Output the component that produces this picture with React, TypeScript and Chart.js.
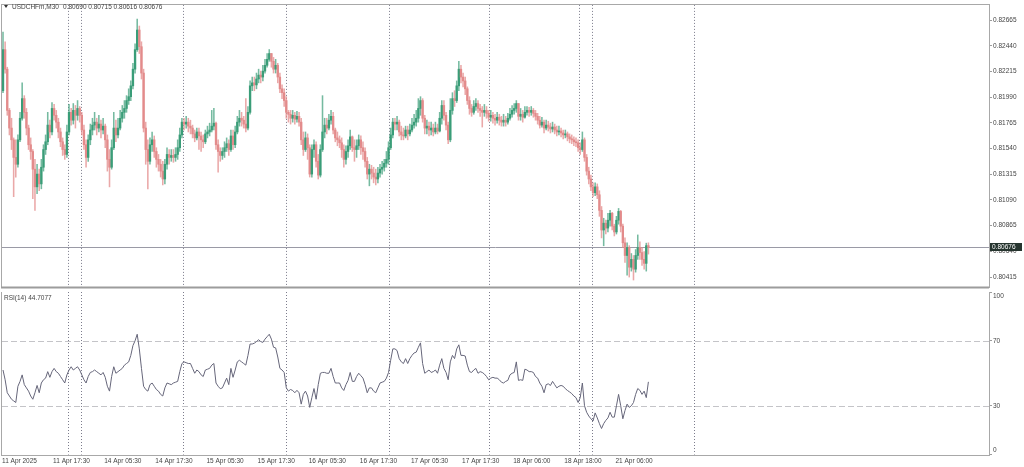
import React, { useEffect, useRef } from "react";
import { Chart, registerables } from "chart.js";
Chart.register(...registerables);

const symbolTitle = "USDCHFm,M30";
const lastBarText = "0.80690 0.80715 0.80616 0.80676";
const rsiTitle = "RSI(14) 44.7077";
const currentPrice = 0.80676;
const currentPriceText = "0.80676";

const firstOpen = 0.82047;
const closes = [
  0.82407,0.82236,0.81875,0.81720,0.81617,0.81463,0.81403,0.81617,0.81806,0.81978,
  0.81858,0.81720,0.81574,0.81515,0.81360,0.81205,0.81317,0.81231,0.81377,0.81532,
  0.81600,0.81746,0.81686,0.81892,0.81832,0.81772,0.81686,0.81600,0.81532,0.81489,
  0.81686,0.81858,0.81789,0.81875,0.81832,0.81892,0.81832,0.81703,0.81574,0.81463,
  0.81617,0.81703,0.81746,0.81772,0.81720,0.81755,0.81703,0.81737,0.81617,0.81446,
  0.81377,0.81548,0.81720,0.81660,0.81720,0.81806,0.81858,0.81892,0.81961,0.81995,
  0.82090,0.82236,0.82407,0.82579,0.82433,0.82202,0.81720,0.81532,0.81429,0.81574,
  0.81617,0.81515,0.81446,0.81403,0.81343,0.81274,0.81403,0.81489,0.81463,0.81480,
  0.81463,0.81489,0.81548,0.81660,0.81772,0.81755,0.81772,0.81737,0.81720,0.81669,
  0.81634,0.81686,0.81651,0.81617,0.81600,0.81669,0.81686,0.81703,0.81737,0.81763,
  0.81574,0.81515,0.81480,0.81515,0.81548,0.81583,0.81532,0.81651,0.81574,0.81686,
  0.81772,0.81806,0.81789,0.81755,0.81720,0.81858,0.82090,0.82116,0.82098,0.82150,
  0.82184,0.82167,0.82219,0.82270,0.82322,0.82373,0.82305,0.82236,0.82270,0.82167,
  0.82064,0.82030,0.81961,0.81858,0.81841,0.81806,0.81832,0.81798,0.81823,0.81772,
  0.81617,0.81532,0.81634,0.81548,0.81317,0.81532,0.81574,0.81429,0.81308,0.81532,
  0.81686,0.81746,0.81720,0.81789,0.81823,0.81703,0.81634,0.81617,0.81591,0.81532,
  0.81446,0.81515,0.81565,0.81643,0.81548,0.81532,0.81565,0.81617,0.81548,0.81515,
  0.81429,0.81317,0.81360,0.81326,0.81291,0.81274,0.81326,0.81360,0.81377,0.81412,
  0.81446,0.81548,0.81660,0.81772,0.81755,0.81772,0.81686,0.81660,0.81651,0.81703,
  0.81669,0.81703,0.81746,0.81772,0.81806,0.81892,0.81961,0.81806,0.81720,0.81737,
  0.81703,0.81720,0.81686,0.81720,0.81694,0.81806,0.81918,0.81832,0.81746,0.81617,
  0.81875,0.81978,0.81961,0.82090,0.82236,0.82167,0.82133,0.82064,0.81961,0.81892,
  0.81858,0.81909,0.81935,0.81892,0.81875,0.81858,0.81875,0.81849,0.81815,0.81832,
  0.81806,0.81789,0.81815,0.81789,0.81772,0.81789,0.81772,0.81806,0.81841,0.81875,
  0.81892,0.81935,0.81823,0.81841,0.81815,0.81858,0.81875,0.81858,0.81875,0.81849,
  0.81823,0.81789,0.81746,0.81772,0.81720,0.81746,0.81729,0.81712,0.81729,0.81703,
  0.81686,0.81694,0.81677,0.81660,0.81669,0.81643,0.81626,0.81617,0.81600,0.81591,
  0.81548,0.81532,0.81617,0.81463,0.81343,0.81274,0.81205,0.81154,0.81205,0.81136,
  0.80999,0.80827,0.80887,0.80844,0.80913,0.80973,0.80861,0.80810,0.80913,0.80990,
  0.80861,0.80715,0.80604,0.80673,0.80501,0.80570,0.80484,0.80604,0.80673,0.80630,
  0.80570,0.80535,0.80690,0.80676,
];
const highs = [
  0.82562,0.82476,0.82253,0.81892,0.81806,0.81634,0.81617,0.81660,0.81858,0.82116,
  0.82004,0.81892,0.81746,0.81634,0.81532,0.81446,0.81403,0.81360,0.81446,0.81574,
  0.81660,0.81858,0.81789,0.81944,0.81927,0.81875,0.81806,0.81720,0.81634,0.81574,
  0.81746,0.81927,0.81892,0.81935,0.81918,0.81961,0.81909,0.81858,0.81746,0.81617,
  0.81660,0.81755,0.81806,0.81858,0.81806,0.81832,0.81789,0.81806,0.81755,0.81660,
  0.81532,0.81617,0.81858,0.81789,0.81806,0.81875,0.81918,0.81961,0.82004,0.82064,
  0.82133,0.82287,0.82459,0.82674,0.82614,0.82476,0.82236,0.81772,0.81617,0.81634,
  0.81686,0.81651,0.81548,0.81489,0.81446,0.81429,0.81446,0.81548,0.81532,0.81532,
  0.81532,0.81548,0.81617,0.81720,0.81806,0.81806,0.81823,0.81806,0.81789,0.81746,
  0.81703,0.81720,0.81720,0.81686,0.81660,0.81703,0.81737,0.81763,0.81875,0.81892,
  0.81772,0.81617,0.81548,0.81548,0.81600,0.81634,0.81617,0.81703,0.81703,0.81737,
  0.81823,0.81875,0.81858,0.81823,0.81978,0.81909,0.82133,0.82167,0.82167,0.82202,
  0.82236,0.82219,0.82270,0.82322,0.82373,0.82408,0.82373,0.82339,0.82322,0.82287,
  0.82202,0.82098,0.82064,0.81995,0.81875,0.81875,0.81875,0.81858,0.81866,0.81858,
  0.81806,0.81686,0.81686,0.81669,0.81574,0.81574,0.81617,0.81600,0.81489,0.81574,
  0.82004,0.81806,0.81806,0.81841,0.81875,0.81858,0.81720,0.81686,0.81651,0.81634,
  0.81574,0.81565,0.81617,0.81703,0.81651,0.81617,0.81617,0.81660,0.81651,0.81600,
  0.81548,0.81463,0.81403,0.81394,0.81377,0.81360,0.81377,0.81403,0.81429,0.81446,
  0.81515,0.81600,0.81720,0.81806,0.81806,0.81823,0.81789,0.81737,0.81720,0.81737,
  0.81737,0.81755,0.81806,0.81841,0.81875,0.81978,0.81995,0.81978,0.81832,0.81789,
  0.81772,0.81772,0.81755,0.81772,0.81755,0.81858,0.81961,0.81961,0.81858,0.81772,
  0.81978,0.82030,0.82047,0.82133,0.82305,0.82270,0.82202,0.82167,0.82081,0.81995,
  0.81927,0.81961,0.81978,0.81961,0.81927,0.81909,0.81927,0.81909,0.81875,0.81875,
  0.81858,0.81841,0.81858,0.81841,0.81823,0.81841,0.81823,0.81849,0.81892,0.81918,
  0.81935,0.81961,0.81927,0.81892,0.81875,0.81909,0.81909,0.81901,0.81909,0.81892,
  0.81875,0.81849,0.81823,0.81815,0.81789,0.81789,0.81780,0.81763,0.81772,0.81755,
  0.81737,0.81737,0.81720,0.81703,0.81703,0.81686,0.81669,0.81660,0.81643,0.81634,
  0.81617,0.81591,0.81686,0.81634,0.81489,0.81377,0.81308,0.81240,0.81240,0.81231,
  0.81171,0.81033,0.80930,0.80913,0.80973,0.80999,0.80982,0.80878,0.80947,0.81016,
  0.80999,0.80878,0.80758,0.80715,0.80690,0.80621,0.80604,0.80656,0.80784,0.80724,
  0.80673,0.80639,0.80712,0.80715,
];
const lows = [
  0.82030,0.82202,0.81832,0.81660,0.81532,0.81119,0.81291,0.81377,0.81600,0.81789,
  0.81806,0.81660,0.81532,0.81446,0.81102,0.80999,0.81145,0.81171,0.81188,0.81343,
  0.81489,0.81574,0.81634,0.81660,0.81789,0.81720,0.81634,0.81557,0.81480,0.81446,
  0.81463,0.81660,0.81746,0.81755,0.81720,0.81789,0.81772,0.81660,0.81532,0.81377,
  0.81429,0.81574,0.81660,0.81703,0.81660,0.81686,0.81634,0.81669,0.81548,0.81343,
  0.81205,0.81360,0.81532,0.81600,0.81634,0.81703,0.81772,0.81806,0.81858,0.81927,
  0.81961,0.82064,0.82202,0.82391,0.82373,0.82150,0.81686,0.81403,0.81188,0.81403,
  0.81515,0.81463,0.81377,0.81343,0.81291,0.81222,0.81231,0.81360,0.81403,0.81429,
  0.81420,0.81429,0.81446,0.81515,0.81634,0.81703,0.81720,0.81686,0.81669,0.81634,
  0.81600,0.81617,0.81532,0.81515,0.81548,0.81583,0.81634,0.81651,0.81686,0.81703,
  0.81532,0.81334,0.81429,0.81446,0.81463,0.81515,0.81480,0.81515,0.81532,0.81548,
  0.81669,0.81737,0.81737,0.81720,0.81686,0.81703,0.81841,0.82047,0.82047,0.82064,
  0.82116,0.82116,0.82133,0.82202,0.82253,0.82305,0.82253,0.82202,0.82202,0.82116,
  0.82030,0.81978,0.81909,0.81806,0.81772,0.81755,0.81772,0.81755,0.81772,0.81737,
  0.81574,0.81480,0.81515,0.81446,0.81291,0.81291,0.81463,0.81377,0.81274,0.81291,
  0.81515,0.81634,0.81669,0.81703,0.81755,0.81669,0.81600,0.81565,0.81548,0.81463,
  0.81377,0.81403,0.81463,0.81532,0.81515,0.81429,0.81463,0.81532,0.81489,0.81446,
  0.81377,0.81274,0.81214,0.81274,0.81240,0.81222,0.81240,0.81291,0.81317,0.81343,
  0.81377,0.81403,0.81532,0.81634,0.81703,0.81703,0.81651,0.81617,0.81617,0.81634,
  0.81617,0.81651,0.81686,0.81720,0.81737,0.81772,0.81832,0.81772,0.81669,0.81669,
  0.81651,0.81660,0.81651,0.81669,0.81669,0.81686,0.81755,0.81789,0.81703,0.81583,
  0.81600,0.81841,0.81909,0.81944,0.82047,0.82116,0.82081,0.82013,0.81927,0.81841,
  0.81823,0.81841,0.81875,0.81858,0.81823,0.81729,0.81823,0.81806,0.81780,0.81780,
  0.81763,0.81746,0.81763,0.81746,0.81737,0.81737,0.81737,0.81755,0.81789,0.81815,
  0.81841,0.81858,0.81789,0.81789,0.81772,0.81806,0.81832,0.81823,0.81832,0.81815,
  0.81789,0.81755,0.81720,0.81729,0.81677,0.81703,0.81694,0.81677,0.81686,0.81669,
  0.81651,0.81660,0.81643,0.81626,0.81634,0.81608,0.81591,0.81583,0.81565,0.81557,
  0.81515,0.81489,0.81515,0.81429,0.81308,0.81231,0.81171,0.81119,0.81128,0.81102,
  0.80947,0.80758,0.80689,0.80792,0.80810,0.80861,0.80827,0.80775,0.80792,0.80878,
  0.80810,0.80673,0.80544,0.80432,0.80415,0.80467,0.80389,0.80458,0.80570,0.80570,
  0.80518,0.80484,0.80467,0.80616,
];
const rsi14 = [
  52,46,38,36,34,33,32,42,45,49,
  43,41,39,36,34,38,42.5,38,44,46,
  47,51,47.5,51,53,51,50,48,46,44,
  49,52,54,52,53,54,52,49,46,44,
  48,50.5,51,52,51,50,49,50.5,47.5,42,
  39,48,54,50,51,52,53,55,56,57,
  61,67,70,74,65,53,42,40,39,43,
  44,42,40,39,37,36,41,44,43.5,43,
  44,44.5,45,51,56,57,56.5,56,56,53,
  50,52,51,49,48,52,52.5,53,55,56,
  44,42,40.5,41,44,47,43,53,47.5,52,
  57,58,57,56,55,61,68,68,68.5,69.5,
  70.6,69.5,69,71,72.5,74,71,66,65.6,60,
  53,52,50.5,41,39,40,39.4,38,39.5,38,
  31,37,39,36,29,35,40.6,34,43,50,
  50.5,50.5,50,50,53,48,44,44,44,41,
  39.4,43,45.6,50.5,45,45,48,50,48.5,47,
  43,38,41,41,39,38,41,44,44.5,45,
  47,50.5,58,65,65,64,59,57,56,59,
  56,59,61,62.5,63,66,68.7,56,50,51,
  52,50.5,51,52,50,55,59,53,50.5,46,
  57,61,59,65,67.5,61,61,60.6,55,51,
  50.5,52,53,50,51,50.5,49.5,48,46,47,
  47.5,47,47,46,44.5,44,45,45.6,49,50,
  50.5,57,45.6,46,45.6,52.5,52,51,51,50.5,
  48,47,44,42,38,43,43.5,42.5,45,43,
  41,42,42.5,42,40.5,39.4,38.5,37.5,36,35,
  32,35,44,30,26,23.7,22,20.6,25.6,22.5,
  19,16,19,21,22.5,26,23,23,30,37,
  30,22,27,31,29,30,32,37,40.6,39.5,
  37,39,35,44.71,
];

const priceTicks = [0.82665, 0.8244, 0.82215, 0.8199, 0.81765, 0.8154, 0.81315, 0.8109, 0.80865, 0.8064, 0.80415];
const rsiLevels = [100, 70, 30, 0];
const rsiDashedLevels = [70, 30];
const timeLabels = [
  "11 Apr 2025", "11 Apr 17:30", "14 Apr 05:30", "14 Apr 17:30", "15 Apr 05:30",
  "15 Apr 17:30", "16 Apr 05:30", "16 Apr 17:30", "17 Apr 05:30", "17 Apr 17:30",
  "18 Apr 06:00", "18 Apr 18:00", "21 Apr 06:00",
];
const timeLabelBars = [0, 24, 48, 72, 96, 120, 144, 168, 192, 216, 240, 264, 288];
const periodLineBars = [30.66, 36.62, 84.65, 132.9, 181.2, 228.3, 270.4, 276.4, 324.6];

const PRICE_MIN = 0.80327;
const PRICE_MAX = 0.82799;
const BAR_MIN = -0.47;
const BAR_MAX = 462.9;

const FONT = "Liberation Sans";
const BULL = "#3a9d78";
const BEAR = "#e38b8b";
const BULL_WICK = "rgba(58,157,120,0.7)";
const BEAR_WICK = "rgba(227,139,139,0.75)";
const FRAME = "#a8a8a8";
const TEXT = "#444";

function drawPeriodLines(chart: any) {
  const { ctx, chartArea } = chart;
  const xs = chart.scales.x;
  ctx.save();
  ctx.strokeStyle = "#7c7c8c";
  ctx.lineWidth = 1;
  ctx.setLineDash([1, 2]);
  periodLineBars.forEach((b) => {
    const x = Math.round(xs.getPixelForValue(b)) + 0.5;
    ctx.beginPath();
    ctx.moveTo(x, chartArea.top);
    ctx.lineTo(x, chartArea.bottom);
    ctx.stroke();
  });
  ctx.restore();
}

function drawFrame(chart: any) {
  const { ctx, chartArea } = chart;
  ctx.save();
  ctx.strokeStyle = FRAME;
  ctx.lineWidth = 1;
  ctx.strokeRect(Math.round(chartArea.left) - 0.5, Math.round(chartArea.top) - 0.5,
    Math.round(chartArea.right - chartArea.left) + 1, Math.round(chartArea.bottom - chartArea.top) + 1);
  ctx.restore();
}

const pricePanePlugin = {
  id: "pricePane",
  beforeDatasetsDraw(chart: any) {
    const { ctx, chartArea } = chart;
    drawPeriodLines(chart);
    const y = Math.round(chart.scales.y.getPixelForValue(currentPrice)) + 0.5;
    ctx.save();
    ctx.strokeStyle = "#9a9aa6";
    ctx.lineWidth = 1;
    ctx.beginPath();
    ctx.moveTo(chartArea.left, y);
    ctx.lineTo(chartArea.right, y);
    ctx.stroke();
    ctx.restore();
  },
  afterDraw(chart: any) {
    const { ctx, chartArea } = chart;
    drawFrame(chart);
    ctx.save();
    ctx.strokeStyle = "#9c9c9c";
    ctx.lineWidth = 2;
    ctx.beginPath();
    ctx.moveTo(chartArea.left - 1, chartArea.bottom + 0.5);
    ctx.lineTo(chartArea.right, chartArea.bottom + 0.5);
    ctx.stroke();
    ctx.fillStyle = "#333";
    ctx.beginPath();
    ctx.moveTo(4, 5);
    ctx.lineTo(8, 5);
    ctx.lineTo(6, 8);
    ctx.closePath();
    ctx.fill();
    ctx.font = `6.5px "${FONT}"`;
    ctx.textBaseline = "middle";
    ctx.textAlign = "left";
    ctx.fillStyle = TEXT;
    ctx.fillText(symbolTitle, 12, 7);
    ctx.fillText(lastBarText, 63, 7);
    const y = chart.scales.y.getPixelForValue(currentPrice);
    ctx.fillStyle = "#26352f";
    ctx.fillRect(chartArea.right + 1, Math.round(y) - 4, 32, 8);
    ctx.fillStyle = "#ffffff";
    ctx.fillText(currentPriceText, chartArea.right + 3, Math.round(y) + 0.5);
    ctx.restore();
  },
};

const rsiPanePlugin = {
  id: "rsiPane",
  beforeDatasetsDraw(chart: any) {
    const { ctx, chartArea } = chart;
    drawPeriodLines(chart);
    ctx.save();
    ctx.strokeStyle = "#c4c4c8";
    ctx.lineWidth = 1;
    ctx.setLineDash([6, 3]);
    rsiDashedLevels.forEach((v) => {
      const y = Math.round(chart.scales.y.getPixelForValue(v)) + 0.5;
      ctx.beginPath();
      ctx.moveTo(chartArea.left, y);
      ctx.lineTo(chartArea.right, y);
      ctx.stroke();
    });
    ctx.restore();
  },
  afterDraw(chart: any) {
    const { ctx, chartArea } = chart;
    drawFrame(chart);
    ctx.save();
    ctx.font = `6.5px "${FONT}"`;
    ctx.textBaseline = "middle";
    ctx.textAlign = "left";
    ctx.fillStyle = TEXT;
    ctx.fillText(rsiTitle, 4, chartArea.top + 6);
    rsiLevels.forEach((v) => {
      let y = chart.scales.y.getPixelForValue(v);
      if (v === 100) y += 4;
      if (v === 0) y -= 4;
      ctx.fillText(String(v), chartArea.right + 4, y);
    });
    const xs = chart.scales.x;
    timeLabels.forEach((t, i) => {
      const x = xs.getPixelForValue(timeLabelBars[i]) - 1;
      ctx.fillText(t, x, chartArea.bottom + 6.5);
    });
    ctx.restore();
  },
};

export default function App() {
  const priceRef = useRef<HTMLCanvasElement | null>(null);
  const rsiRef = useRef<HTMLCanvasElement | null>(null);

  useEffect(() => {
    const opens = closes.map((c, i) => (i === 0 ? firstOpen : closes[i - 1]));
    const up = closes.map((c, i) => c >= opens[i]);
    const bodyData = closes.map((c, i) => ({ x: i, y: [opens[i], c] }));
    const wickData = closes.map((c, i) => ({
      x: i,
      y: [Math.min(lows[i], opens[i], c), Math.max(highs[i], opens[i], c)],
    }));

    const priceChart = new Chart(priceRef.current as HTMLCanvasElement, {
      type: "bar",
      data: {
        datasets: [
          {
            data: wickData as any,
            backgroundColor: up.map((u) => (u ? BULL_WICK : BEAR_WICK)),
            barThickness: 0.9,
            grouped: false,
            order: 2,
          } as any,
          {
            data: bodyData as any,
            backgroundColor: up.map((u) => (u ? BULL : BEAR)),
            barThickness: 1.7,
            minBarLength: 1,
            grouped: false,
            order: 1,
          } as any,
        ],
      },
      options: {
        animation: false,
        responsive: false,
        devicePixelRatio: 1,
        layout: { padding: { left: 2, top: 2, right: 0, bottom: 1 } },
        plugins: { legend: { display: false }, tooltip: { enabled: false } },
        scales: {
          x: { type: "linear", min: BAR_MIN, max: BAR_MAX, display: false, offset: false },
          y: {
            position: "right",
            min: PRICE_MIN,
            max: PRICE_MAX,
            afterBuildTicks: (s: any) => {
              s.ticks = priceTicks.map((v) => ({ value: v }));
            },
            afterFit: (s: any) => {
              s.width = 35;
            },
            ticks: {
              font: { family: FONT, size: 6.5 },
              color: TEXT,
              padding: 1,
              callback: (v: any) => Number(v).toFixed(5),
            },
            grid: { drawOnChartArea: false, drawTicks: true, tickLength: 3, color: "#9c9c9c" },
            border: { display: true, color: "#9c9c9c" },
          },
        },
      } as any,
      plugins: [pricePanePlugin],
    });

    const rsiChart = new Chart(rsiRef.current as HTMLCanvasElement, {
      type: "line",
      data: {
        datasets: [
          {
            data: rsi14.map((v, i) => ({ x: i, y: v })),
            borderColor: "#66667a",
            borderWidth: 1,
            pointRadius: 0,
            tension: 0,
          },
        ],
      },
      options: {
        animation: false,
        responsive: false,
        devicePixelRatio: 1,
        layout: { padding: { left: 2, top: 0, right: 0, bottom: 12.5 } },
        plugins: { legend: { display: false }, tooltip: { enabled: false } },
        scales: {
          x: { type: "linear", min: BAR_MIN, max: BAR_MAX, display: false },
          y: {
            position: "right",
            min: 0,
            max: 100,
            afterBuildTicks: (s: any) => {
              s.ticks = rsiLevels.map((v) => ({ value: v }));
            },
            afterFit: (s: any) => {
              s.width = 35;
            },
            ticks: { display: false },
            grid: { drawOnChartArea: false, drawTicks: true, tickLength: 3, color: "#9c9c9c" },
            border: { display: true, color: "#9c9c9c" },
          },
        },
      } as any,
      plugins: [rsiPanePlugin],
    });

    return () => {
      priceChart.destroy();
      rsiChart.destroy();
    };
  }, []);

  return (
    <div style={{ position: "fixed", left: 0, top: 0, width: 1024, height: 467, background: "#ffffff" }}>
      <canvas ref={priceRef} width={1024} height={292} style={{ position: "absolute", left: 0, top: 0 }} />
      <canvas ref={rsiRef} width={1024} height={175} style={{ position: "absolute", left: 0, top: 292 }} />
    </div>
  );
}
